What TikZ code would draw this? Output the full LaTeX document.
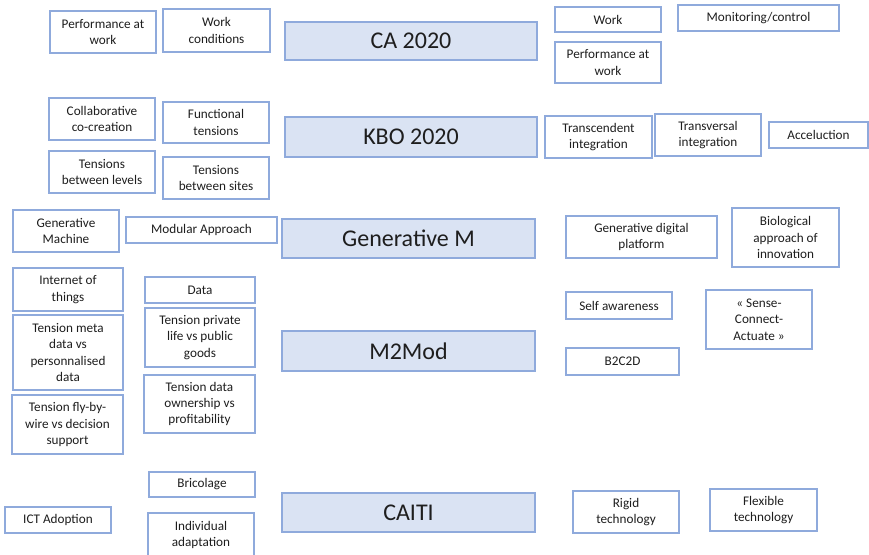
\documentclass[tikz,border=0pt]{standalone}
\usepackage{fontspec}
\setmainfont{Carlito}
\definecolor{edge}{RGB}{143,170,220}
\definecolor{pane}{RGB}{218,227,243}
\definecolor{ink}{RGB}{30,30,30}

\tikzset{
  card/.style={draw=edge, line width=1.3pt, fill=white, inner sep=0pt,
    align=center, text=ink, font=\fontsize{13.2}{16.4}\selectfont},
  hub/.style={card, fill=pane, font=\fontsize{24}{28}\selectfont},
}

% \cardat[style]{name}{x1}{y1}{x2}{y2}{text}: a box given by its corners
\newcommand{\cardat}[7][card]{%
  \node[#1, minimum width={#5pt-#3pt}, minimum height={#6pt-#4pt}]
    (#2) at ({(#3+#5)/2},{(#4+#6)/2}) {#7};}

\begin{document}
\begin{tikzpicture}[x=1pt, y=-1pt]
  \useasboundingbox (0,0) rectangle (869,554);
  \fill[white] (0,0) rectangle (869,554);

  % CA 2020
  \cardat{ca1}{50}{11}{156}{53}{Performance at\\work}
  \cardat{ca2}{163}{9}{270}{52}{Work\\conditions}
  \cardat[hub]{ca}{285}{22}{537}{60}{CA 2020}
  \cardat{ca3}{555}{7}{661}{32}{Work}
  \cardat{ca4}{678}{5}{839}{31}{Monitoring/control}
  \cardat{ca5}{555}{42}{661}{83}{Performance at\\work}

  % KBO 2020
  \cardat{kb1}{49}{98}{155}{140}{Collaborative\\co-creation}
  \cardat{kb2}{163}{102}{269}{143}{Functional\\tensions}
  \cardat{kb3}{49}{151}{155}{193}{Tensions\\between levels}
  \cardat{kb4}{163}{157}{269}{199}{Tensions\\between sites}
  \cardat[hub]{kbo}{285}{117}{537}{157}{KBO 2020}
  \cardat{kb5}{545}{116}{652}{158}{Transcendent\\integration}
  \cardat{kb6}{655}{114}{761}{156}{Transversal\\integration}
  \cardat{kb7}{769}{122}{868}{148}{Acceluction}

  % Generative M
  \cardat{gm1}{13}{210}{119}{252}{Generative\\Machine}
  \cardat{gm2}{126}{217}{277}{243}{Modular Approach}
  \cardat[hub]{gm}{282}{219}{535}{258}{Generative M}
  \cardat{gm3}{566}{216}{717}{258}{Generative digital\\platform}
  \cardat{gm4}{732}{208}{839}{267}{Biological\\approach of\\innovation}

  % M2Mod
  \cardat{mm1}{13}{268}{123}{311}{Internet of\\things}
  \cardat{mm2}{13}{315}{123}{390}{Tension meta\\data vs\\personnalised\\data}
  \cardat{mm3}{12}{395}{123}{454}{Tension fly-by-\\wire vs decision\\support}
  \cardat{mm4}{145}{277}{255}{303}{Data}
  \cardat{mm5}{145}{308}{255}{367}{Tension private\\life vs public\\goods}
  \cardat{mm6}{144}{375}{255}{433}{Tension data\\ownership vs\\profitability}
  \cardat[hub]{mm}{282}{331}{535}{371}{M2Mod}
  \cardat{mm7}{566}{292}{672}{319}{Self awareness}
  \cardat{mm8}{566}{348}{679}{375}{B2C2D}
  \cardat{mm9}{706}{290}{812}{349}{« Sense-\\Connect-\\Actuate »}

  % CAITI
  \cardat{ct1}{5}{507}{111}{533}{ICT Adoption}
  \cardat{ct2}{149}{472}{255}{497}{Bricolage}
  \cardat{ct3}{148}{513}{254}{557}{Individual\\adaptation}
  \cardat[hub]{ct}{282}{493}{535}{532}{CAITI}
  \cardat{ct4}{573}{491}{679}{533}{Rigid\\technology}
  \cardat{ct5}{710}{489}{817}{531}{Flexible\\technology}
\end{tikzpicture}
\end{document}
